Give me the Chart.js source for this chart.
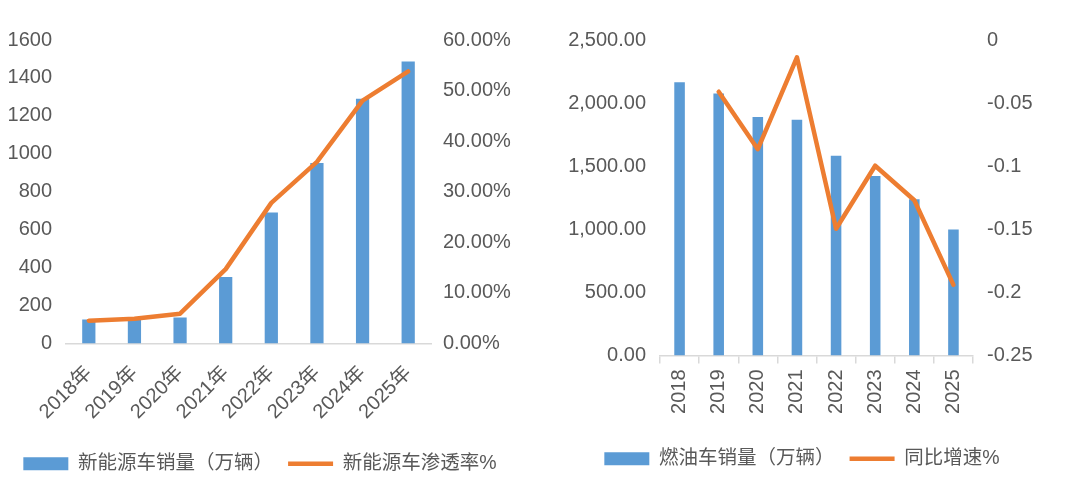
<!DOCTYPE html>
<html>
<head>
<meta charset="utf-8">
<script src="https://cdn.jsdelivr.net/npm/chart.js@4.4.1/dist/chart.umd.min.js"></script>
<style>
  html, body { margin: 0; padding: 0; background: #fff; }
  .wrap { position: absolute; top: 0; width: 540px; height: 495px; }
</style>
</head>
<body>
<div class="wrap" style="left:0"><canvas id="nev"></canvas></div>
<div class="wrap" style="left:540px"><canvas id="ice"></canvas></div>
<script>
// 新能源车
const nevYears = ['2018年', '2019年', '2020年', '2021年', '2022年', '2023年', '2024年', '2025年'];
const nevSales = [126, 128, 137, 350, 690, 951, 1290, 1487];
const nevRate = [4.5, 4.9, 5.9, 14.7, 27.8, 35.9, 48.0, 53.8];

// 燃油车
const iceYears = ['2018', '2019', '2020', '2021', '2022', '2023', '2024', '2025'];
const iceSales = [2166, 2077, 1890, 1869, 1583, 1422, 1238, 999];
const iceGrowth = [null, -0.041, -0.0865, -0.0137, -0.1496, -0.0996, -0.127, -0.194];

const BLUE = '#5B9BD5';
const ORANGE = '#ED7D31';
const GRAY = '#595959';
const FONT = '"Liberation Sans", "Noto Sans CJK SC", sans-serif';

Chart.defaults.font.family = FONT;
Chart.defaults.color = GRAY;
Chart.defaults.animation = false;
Chart.defaults.maintainAspectRatio = false;
Chart.defaults.responsive = true;

function fixW(w) { return (scale) => { scale.width = w; }; }
function fixH(h) { return (scale) => { scale.height = h; }; }

const legendOpts = {
    position: 'bottom',
    labels: {
        usePointStyle: true,
        pointStyleWidth: 45,
        boxHeight: 13,
        padding: 15,
        color: GRAY,
        font: {size: 19.5},
        sort: (a, b) => a.datasetIndex - b.datasetIndex,
    },
};

const noGrid = {display: false, drawTicks: false};

new Chart(document.getElementById('nev'), {
    type: 'bar',
    data: {
        labels: nevYears,
        datasets: [
            {
                label: '新能源车销量（万辆）',
                data: nevSales,
                backgroundColor: BLUE,
                pointStyle: 'rect',
                barPercentage: 0.29,
                categoryPercentage: 1,
                yAxisID: 'y',
                order: 2,
            },
            {
                type: 'line',
                label: '新能源车渗透率%',
                data: nevRate,
                borderColor: ORANGE,
                backgroundColor: ORANGE,
                borderWidth: 4.5,
                borderCapStyle: 'round',
                borderJoinStyle: 'round',
                pointStyle: 'line',
                pointRadius: 0,
                tension: 0,
                yAxisID: 'y1',
                order: 1,
            },
        ],
    },
    options: {
        layout: {padding: {top: 40, bottom: 11.5, left: 0, right: 20}},
        plugins: {legend: legendOpts, tooltip: {enabled: false}},
        scales: {
            x: {
                afterFit: fixH(95.5),
                grid: {display: true, drawOnChartArea: false, drawTicks: false},
                border: {display: true, color: '#d9d9d9', width: 1.5},
                ticks: {minRotation: 45, maxRotation: 45, padding: 18, font: {size: 20}, color: GRAY},
            },
            y: {
                position: 'left',
                min: 0, max: 1600,
                afterFit: fixW(66),
                grid: noGrid,
                border: {display: false},
                ticks: {stepSize: 200, padding: 14, font: {size: 20}, color: GRAY, callback: (v) => String(v)},
            },
            y1: {
                position: 'right',
                min: 0, max: 60,
                afterFit: fixW(89),
                grid: noGrid,
                border: {display: false},
                ticks: {
                    stepSize: 10, padding: 12, font: {size: 20}, color: GRAY,
                    callback: (v) => v.toFixed(2) + '%',
                },
            },
        },
    },
});

new Chart(document.getElementById('ice'), {
    type: 'bar',
    data: {
        labels: iceYears,
        datasets: [
            {
                label: '燃油车销量（万辆）',
                data: iceSales,
                backgroundColor: BLUE,
                pointStyle: 'rect',
                barPercentage: 0.27,
                categoryPercentage: 1,
                yAxisID: 'y',
                order: 2,
            },
            {
                type: 'line',
                label: '同比增速%',
                data: iceGrowth,
                borderColor: ORANGE,
                backgroundColor: ORANGE,
                borderWidth: 4.5,
                borderCapStyle: 'round',
                borderJoinStyle: 'round',
                pointStyle: 'line',
                pointRadius: 0,
                tension: 0,
                yAxisID: 'y1',
                order: 1,
            },
        ],
    },
    options: {
        layout: {padding: {top: 40, bottom: 16.5, left: 0, right: 16}},
        plugins: {legend: legendOpts, tooltip: {enabled: false}},
        scales: {
            x: {
                afterFit: fixH(78.5),
                grid: {display: true, drawOnChartArea: false, drawTicks: true, tickLength: 8, color: '#d9d9d9', lineWidth: 1.5, offset: true},
                border: {display: true, color: '#d9d9d9', width: 1.5},
                ticks: {minRotation: 90, maxRotation: 90, padding: 6, font: {size: 20}, color: GRAY},
            },
            y: {
                position: 'left',
                min: 0, max: 2500,
                afterFit: fixW(120),
                grid: noGrid,
                border: {display: false},
                ticks: {
                    stepSize: 500, padding: 14, font: {size: 20}, color: GRAY,
                    callback: (v) => v.toLocaleString('en-US', {minimumFractionDigits: 2, maximumFractionDigits: 2}),
                },
            },
            y1: {
                position: 'right',
                min: -0.25, max: 0,
                afterFit: fixW(91),
                grid: noGrid,
                border: {display: false},
                ticks: {
                    stepSize: 0.05, padding: 14, font: {size: 20}, color: GRAY,
                    callback: (v) => String(parseFloat(v.toFixed(2))),
                },
            },
        },
    },
});
</script>
</body>
</html>
